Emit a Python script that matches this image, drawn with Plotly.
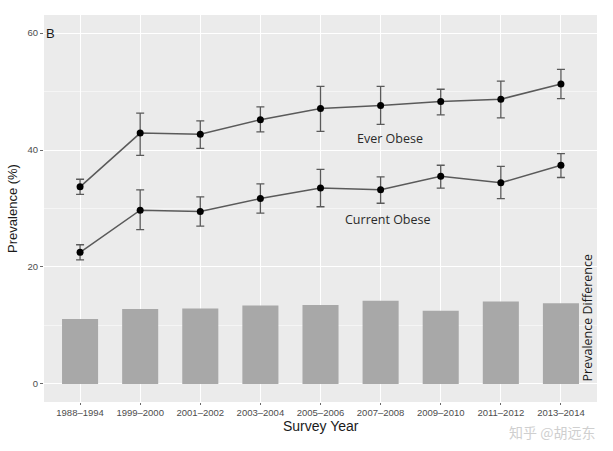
import plotly.graph_objects as go

years = ["1988–1994", "1999–2000", "2001–2002", "2003–2004", "2005–2006",
         "2007–2008", "2009–2010", "2011–2012", "2013–2014"]
ever_obese = [33.7, 42.9, 42.7, 45.2, 47.1, 47.6, 48.3, 48.7, 51.3]
ever_hi = [35.0, 46.3, 45.0, 47.4, 50.9, 50.9, 50.4, 51.8, 53.8]
ever_lo = [32.4, 39.1, 40.3, 43.1, 43.2, 44.4, 46.0, 45.5, 48.8]
current_obese = [22.5, 29.7, 29.5, 31.7, 33.5, 33.2, 35.5, 34.4, 37.4]
current_hi = [23.8, 33.2, 32.0, 34.2, 36.7, 35.4, 37.4, 37.2, 39.4]
current_lo = [21.2, 26.4, 27.0, 29.2, 30.3, 30.9, 33.5, 31.7, 35.3]
prevalence_diff = [11.1, 12.8, 12.9, 13.4, 13.5, 14.2, 12.5, 14.1, 13.8]

fig = go.Figure()
fig.add_trace(go.Bar(x=years, y=prevalence_diff, width=0.6,
                     marker=dict(color="#a8a8a8", line=dict(width=0)),
                     showlegend=False))

def err_trace(vals, hi, lo):
    return go.Scatter(
        x=years, y=vals, mode="lines+markers",
        line=dict(color="#5a5a5a", width=1.5),
        marker=dict(color="black", size=7),
        error_y=dict(type="data", symmetric=False,
                     array=[h - v for h, v in zip(hi, vals)],
                     arrayminus=[v - l for v, l in zip(vals, lo)],
                     color="#5a5a5a", thickness=1.3, width=4),
        showlegend=False)

fig.add_trace(err_trace(ever_obese, ever_hi, ever_lo))
fig.add_trace(err_trace(current_obese, current_hi, current_lo))

fig.update_layout(
    width=613, height=451,
    margin=dict(l=38, r=16, t=15, b=49),
    paper_bgcolor="white", plot_bgcolor="#ebebeb",
    font=dict(family="Liberation Sans, Arial, sans-serif", color="#4d4d4d"),
    xaxis=dict(type="category", range=[-0.6, 8.6], showgrid=True,
               gridcolor="white", gridwidth=1.2, ticks="outside", ticklen=2,
               tickcolor="#6a6a6a", tickfont=dict(size=9.5, color="#4d4d4d"),
               zeroline=False, showline=False),
    yaxis=dict(range=[-3.1, 63.1], tickvals=[0, 20, 40, 60], showgrid=True,
               gridcolor="white", gridwidth=1.2, ticks="outside", ticklen=3,
               tickcolor="#6a6a6a", tickfont=dict(size=9.5, color="#4d4d4d"),
               zeroline=False, showline=False,
               minor=dict(tickvals=[10, 30, 50], showgrid=True,
                          gridcolor="#f5f5f5", gridwidth=0.6, ticks=""),
               title=dict(text="Prevalence (%)", standoff=6,
                          font=dict(size=13, color="#1a1a1a"))),
    bargap=0.4,
)

fig.add_annotation(text="Survey Year", x=0.5, y=-0.063, xref="paper", yref="paper",
                   showarrow=False, xanchor="center", yanchor="middle",
                   font=dict(size=14, color="#1a1a1a"))
fig.add_annotation(text="B", x=-0.6, y=60, xref="x", yref="y", showarrow=False,
                   xanchor="left", yanchor="middle",
                   font=dict(size=13, color="#1a1a1a", family="Liberation Sans, Arial"))
fig.add_annotation(text="Ever Obese", x=5.15, y=42, xref="x", yref="y",
                   showarrow=False,
                   font=dict(size=12.5, color="#2a2a2a", family="Open Sans"))
fig.add_annotation(text="Current Obese", x=5.12, y=28.2, xref="x", yref="y",
                   showarrow=False,
                   font=dict(size=12.5, color="#2a2a2a", family="Open Sans"))
fig.add_annotation(text="Prevalence Difference", x=0.982, y=0, xref="paper",
                   yref="y", textangle=-90, showarrow=False,
                   xanchor="center", yanchor="bottom",
                   font=dict(size=12.5, color="#1a1a1a", family="Open Sans"))
fig.add_annotation(text="知乎 @胡远东", x=1.0, y=-0.078, xref="paper", yref="paper",
                   showarrow=False, xanchor="right", yanchor="middle",
                   font=dict(size=14, color="#cfcfcf", family="Noto Sans CJK SC"))

fig.write_html("out.html")
